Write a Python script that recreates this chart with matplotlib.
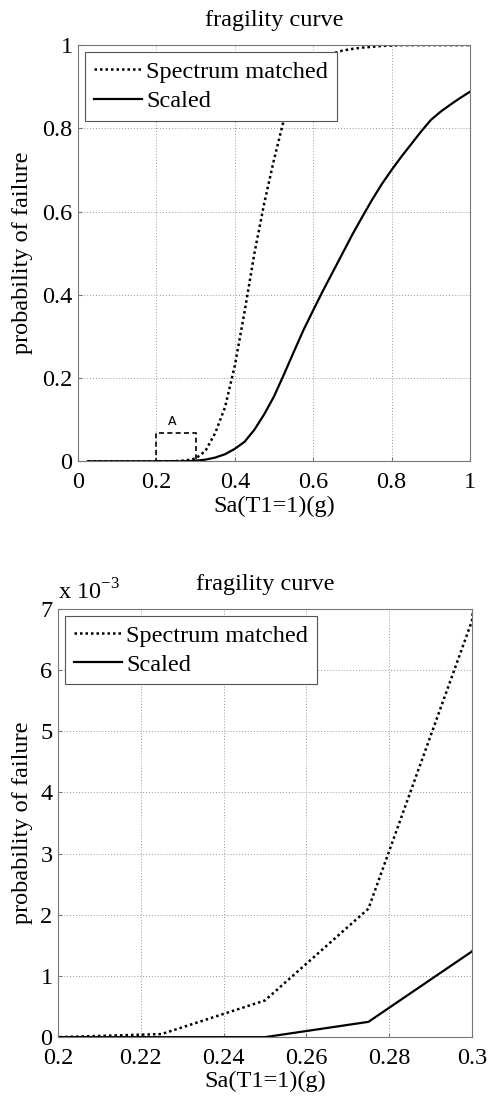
import numpy as np
import matplotlib
matplotlib.use("Agg")
import matplotlib.pyplot as plt
from matplotlib.patches import Rectangle

plt.rcParams["font.family"] = ["Liberation Serif", "DejaVu Serif"]
plt.rcParams["mathtext.fontset"] = "custom"
plt.rcParams["mathtext.rm"] = "Liberation Serif"

# ── Data ──────────────────────────────────────────────────────────────────────
sa = [0.025, 0.05, 0.075, 0.1, 0.125, 0.15, 0.175, 0.2, 0.225, 0.25,
      0.275, 0.3, 0.325, 0.35, 0.375, 0.4, 0.425, 0.45, 0.475, 0.5,
      0.525, 0.55, 0.575, 0.6, 0.625, 0.65, 0.675, 0.7, 0.725, 0.75,
      0.775, 0.8, 0.825, 0.85, 0.875, 0.9, 0.925, 0.95, 0.975, 1.0]
p_matched = [0, 0, 0, 0, 0, 0, 0, 0, 0.00005, 0.0006,
             0.0021, 0.0068, 0.025, 0.068, 0.13, 0.23, 0.36, 0.50, 0.62, 0.725,
             0.82, 0.88, 0.925, 0.955, 0.97, 0.98, 0.987, 0.991, 0.994, 0.996,
             0.998, 0.999, 1.0, 1.0, 1.0, 1.0, 1.0, 1.0, 1.0, 1.0]
p_scaled = [0, 0, 0, 0, 0, 0, 0, 0, 0, 0,
            0.00025, 0.0014, 0.004, 0.009, 0.017, 0.03, 0.047, 0.076, 0.113, 0.156,
            0.208, 0.262, 0.315, 0.363, 0.41, 0.455, 0.5, 0.545, 0.587, 0.628,
            0.666, 0.70, 0.732, 0.762, 0.792, 0.82, 0.84, 0.857, 0.873, 0.888]

top_xticks = [0, 0.2, 0.4, 0.6, 0.8, 1.0]
top_xlabels = ["0", "0.2", "0.4", "0.6", "0.8", "1"]
top_yticks = [0, 0.2, 0.4, 0.6, 0.8, 1.0]
top_ylabels = ["0", "0.2", "0.4", "0.6", "0.8", "1"]

bot_xticks = [0.2, 0.22, 0.24, 0.26, 0.28, 0.3]
bot_xlabels = ["0.2", "0.22", "0.24", "0.26", "0.28", "0.3"]
bot_yticks = [0, 1, 2, 3, 4, 5, 6, 7]
bot_ylabels = ["0", "1", "2", "3", "4", "5", "6", "7"]

zoom_box = (0.2, 0.3, 0.067)  # x0, x1, height of region "A"
series_names = ["Spectrum matched", "Scaled"]

sa = np.array(sa)
p_matched = np.array(p_matched)
p_scaled = np.array(p_scaled)

FS = 17.5


def style_axes(ax):
    for s in ax.spines.values():
        s.set_color("#777777")
        s.set_linewidth(0.8)
    ax.grid(True, linestyle=(0, (1, 2)), color="#999999", linewidth=0.7)
    ax.tick_params(direction="in", length=3, color="#777777", labelsize=FS)
    ax.tick_params(axis="x", pad=8)
    ax.tick_params(axis="y", pad=4)


def add_legend(ax, lines):
    leg = ax.legend(lines, series_names, loc="upper left", fontsize=FS,
                    fancybox=False, framealpha=1, edgecolor="#555555",
                    handlelength=2.0, handletextpad=0.15, borderpad=0.35,
                    labelspacing=0.3, borderaxespad=0.3)
    leg.get_frame().set_linewidth(0.8)
    return leg


fig = plt.figure(figsize=(4.88, 11.01), dpi=100)

# ── Top panel: full range ────────────────────────────────────────────────────
ax1 = fig.add_axes([0.160, 0.581, 0.803, 0.378])
l1, = ax1.plot(sa, p_matched, color="black", linestyle=(0, (1, 1.2)), linewidth=1.8)
l2, = ax1.plot(sa, p_scaled, color="black", linestyle="-", linewidth=1.6)
ax1.set_xlim(0, 1)
ax1.set_ylim(0, 1)
ax1.set_xticks(top_xticks, top_xlabels)
ax1.set_yticks(top_yticks, top_ylabels)
style_axes(ax1)
ax1.add_patch(Rectangle((zoom_box[0], 0), zoom_box[1] - zoom_box[0], zoom_box[2],
                        fill=False, edgecolor="black", linestyle=(0, (3, 2)),
                        linewidth=1.2, zorder=3))
ax1.text((zoom_box[0] + zoom_box[1]) / 2 - 0.01, zoom_box[2] + 0.012, "A",
         family="DejaVu Sans", fontsize=9, ha="center", va="bottom")
add_legend(ax1, [l1, l2])
ax1.set_title("fragility curve", fontsize=FS, y=1.025)
ax1.set_xlabel("Sa(T1=1)(g)", fontsize=FS)
ax1.set_ylabel("probability of failure", fontsize=FS)
ax1.xaxis.set_label_coords(0.5, -0.084)
ax1.yaxis.set_label_coords(-0.115, 0.5)

# ── Bottom panel: zoom on region A ───────────────────────────────────────────
ax2 = fig.add_axes([0.119, 0.058, 0.848, 0.389])
m2, = ax2.plot(sa, p_matched * 1e3, color="black", linestyle=(0, (1, 1.2)), linewidth=1.8)
s2, = ax2.plot(sa, p_scaled * 1e3, color="black", linestyle="-", linewidth=1.6)
ax2.set_xlim(0.2, 0.3)
ax2.set_ylim(0, 7)
ax2.set_xticks(bot_xticks, bot_xlabels)
ax2.set_yticks(bot_yticks, bot_ylabels)
style_axes(ax2)
add_legend(ax2, [m2, s2])
ax2.text(0.0, 1.01, r"x 10$^{-3}$", transform=ax2.transAxes, fontsize=FS,
         ha="left", va="bottom")
ax2.set_title("fragility curve", fontsize=FS, y=1.025)
ax2.set_xlabel("Sa(T1=1)(g)", fontsize=FS)
ax2.set_ylabel("probability of failure", fontsize=FS)
ax2.xaxis.set_label_coords(0.5, -0.079)
ax2.yaxis.set_label_coords(-0.06, 0.5)

fig.savefig("out.png", dpi=100)
